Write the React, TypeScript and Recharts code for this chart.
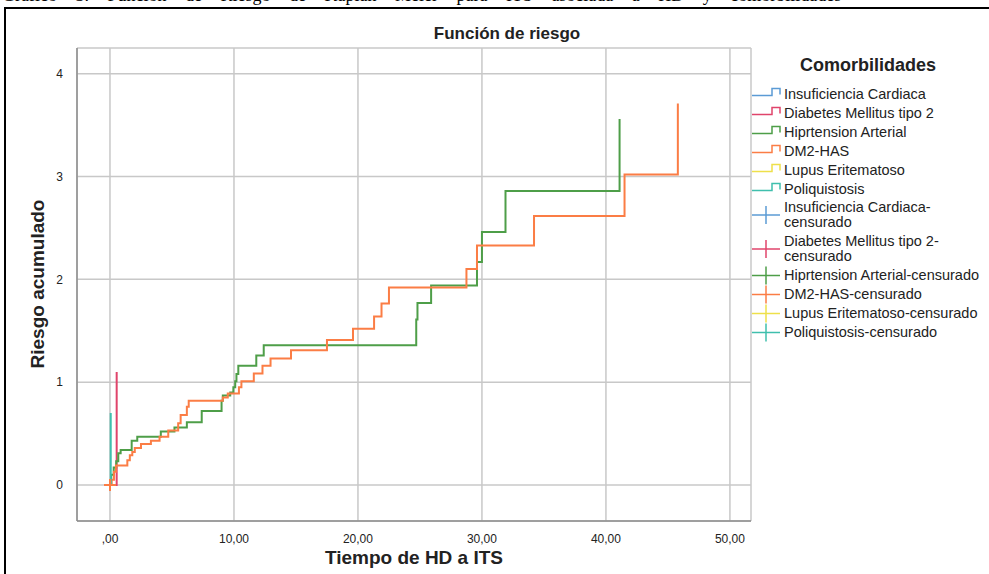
import React from "react";
import { ComposedChart, Line, Scatter, XAxis, YAxis, CartesianGrid } from "recharts";

// ── Data ──────────────────────────────────────────────────────────────────────

const categories = [
    "Insuficiencia Cardiaca",
    "Diabetes Mellitus tipo 2",
    "Hiprtension Arterial",
    "DM2-HAS",
    "Lupus Eritematoso",
    "Poliquistosis",
];
const colors = ["#5b9bd5", "#e0446b", "#4e9e48", "#fb7d45", "#eee04a", "#3fbfad"];

const xTicks = [0, 10, 20, 30, 40, 50];
const yTicks = [0, 1, 2, 3, 4];

// cumulative hazard after each event time (t = tiempo de HD a ITS)
const diabetesSteps = [
    { t: 0, v: 0 },
    { t: 0.54, v: 1.1 },
];

const poliquistosisSteps = [
    { t: 0, v: 0 },
    { t: 0.06, v: 0.7 },
];

const hipertensionSteps = [
    { t: 0, v: 0 }, { t: 0.1, v: 0.1 }, { t: 0.3, v: 0.17 }, { t: 0.5, v: 0.23 },
    { t: 0.67, v: 0.31 }, { t: 0.86, v: 0.34 }, { t: 1.75, v: 0.43 }, { t: 2.2, v: 0.47 },
    { t: 4.1, v: 0.52 }, { t: 5.2, v: 0.56 }, { t: 6.2, v: 0.61 }, { t: 7.4, v: 0.72 },
    { t: 9.0, v: 0.82 }, { t: 9.1, v: 0.87 }, { t: 9.7, v: 0.9 }, { t: 9.95, v: 0.95 },
    { t: 10.1, v: 1.01 }, { t: 10.2, v: 1.08 }, { t: 10.35, v: 1.16 }, { t: 11.8, v: 1.26 },
    { t: 12.4, v: 1.36 }, { t: 24.7, v: 1.61 }, { t: 24.8, v: 1.77 }, { t: 25.9, v: 1.94 },
    { t: 29.6, v: 2.17 }, { t: 30.0, v: 2.46 }, { t: 31.9, v: 2.86 }, { t: 41.1, v: 3.56 },
];

const dm2HasSteps = [
    { t: 0, v: 0 }, { t: 0.13, v: 0.05 }, { t: 0.32, v: 0.13 }, { t: 0.48, v: 0.19 },
    { t: 1.4, v: 0.24 }, { t: 1.6, v: 0.29 }, { t: 1.8, v: 0.32 }, { t: 2.0, v: 0.36 },
    { t: 2.5, v: 0.4 }, { t: 3.3, v: 0.43 }, { t: 4.0, v: 0.47 }, { t: 4.7, v: 0.53 },
    { t: 5.5, v: 0.6 }, { t: 5.7, v: 0.68 }, { t: 6.2, v: 0.76 }, { t: 6.35, v: 0.82 },
    { t: 9.1, v: 0.85 }, { t: 9.5, v: 0.89 }, { t: 10.4, v: 0.95 }, { t: 10.6, v: 1.01 },
    { t: 11.6, v: 1.085 }, { t: 12.3, v: 1.16 }, { t: 12.95, v: 1.23 }, { t: 14.6, v: 1.31 },
    { t: 17.5, v: 1.41 }, { t: 19.6, v: 1.52 }, { t: 21.3, v: 1.64 }, { t: 21.9, v: 1.765 },
    { t: 22.5, v: 1.92 }, { t: 28.75, v: 2.1 }, { t: 29.6, v: 2.33 }, { t: 34.2, v: 2.615 },
    { t: 41.5, v: 3.02 }, { t: 45.8, v: 3.71 },
];

const dm2HasCensored = [{ t: 0, v: 0 }];

// ── Helpers ───────────────────────────────────────────────────────────────────

const SANS = "'Liberation Sans', Arial, sans-serif";

function fmtX(v: number): string {
    return v === 0 ? ",00" : v.toFixed(2).replace(".", ",");
}

function PlusMark(props: any) {
    const { cx, cy } = props;
    const c = colors[3];
    return (
        <g>
            <line x1={cx - 6} y1={cy} x2={cx + 6} y2={cy} stroke={c} strokeWidth={2} />
            <line x1={cx} y1={cy - 6} x2={cx} y2={cy + 6} stroke={c} strokeWidth={2} />
        </g>
    );
}

function StepIcon({ color }: { color: string }) {
    return (
        <svg width={30} height={19} style={{ flex: "none" }}>
            <path d="M0,11.5 H20 V4.5 H28 V10.5" fill="none" stroke={color} strokeWidth={1.5} />
        </svg>
    );
}

function PlusIcon({ color, h }: { color: string; h: number }) {
    const m = h / 2;
    return (
        <svg width={30} height={h} style={{ flex: "none" }}>
            <line x1={0} y1={m} x2={28} y2={m} stroke={color} strokeWidth={1.5} />
            <line x1={14} y1={m - 9} x2={14} y2={m + 9} stroke={color} strokeWidth={1.5} />
        </svg>
    );
}

// ── Legend ────────────────────────────────────────────────────────────────────

function LegendBox() {
    const censLabels: string[][] = [
        ["Insuficiencia Cardiaca-", "censurado"],
        ["Diabetes Mellitus tipo 2-", "censurado"],
        ["Hiprtension Arterial-censurado"],
        ["DM2-HAS-censurado"],
        ["Lupus Eritematoso-censurado"],
        ["Poliquistosis-censurado"],
    ];
    return (
        <div style={{ position: "absolute", left: 752, top: 54, width: 237, fontFamily: SANS, color: "#222" }}>
            <div style={{ fontSize: 18, fontWeight: "bold", marginLeft: 48, lineHeight: "22px" }}>
                Comorbilidades
            </div>
            <div style={{ marginTop: 8 }}>
                {categories.map((c, i) => (
                    <div key={c} style={{ display: "flex", alignItems: "center", height: 19 }}>
                        <StepIcon color={colors[i]} />
                        <span style={{ fontSize: 14.5, marginLeft: 2, whiteSpace: "nowrap" }}>{c}</span>
                    </div>
                ))}
                {censLabels.map((lines, i) => {
                    const h = 19 + (lines.length - 1) * 15;
                    return (
                        <div key={i} style={{ display: "flex", alignItems: "center", height: h }}>
                            <PlusIcon color={colors[i]} h={h} />
                            <span style={{ fontSize: 14.5, marginLeft: 2, lineHeight: "15px", whiteSpace: "nowrap" }}>
                                {lines.map((l, j) => (
                                    <div key={j}>{l}</div>
                                ))}
                            </span>
                        </div>
                    );
                })}
            </div>
        </div>
    );
}

// ── Main ──────────────────────────────────────────────────────────────────────

export default function App() {
    return (
        <div
            style={{
                position: "fixed",
                left: 0,
                top: 0,
                width: 989,
                height: 574,
                overflow: "hidden",
                background: "#fff",
            }}
        >
            {/* cut-off caption above the frame */}
            <div style={{ position: "absolute", left: 0, top: 0, width: 989, height: 6, overflow: "hidden" }}>
                <div
                    style={{
                        position: "absolute",
                        left: 2,
                        top: -15,
                        fontFamily: "'Liberation Serif', 'Times New Roman', serif",
                        fontSize: 18,
                        wordSpacing: 14,
                        whiteSpace: "nowrap",
                    }}
                >
                    Gráfico 3. Función de Riesgo de Kaplan Meier para ITS asociada a HD y comorbilidades
                </div>
            </div>

            {/* frame */}
            <div
                style={{
                    position: "absolute",
                    left: 4,
                    top: 7,
                    width: 1000,
                    height: 600,
                    border: "2px solid #000",
                }}
            />

            <div style={{ position: "absolute", left: 0, top: 0 }}>
                <ComposedChart
                    width={989}
                    height={574}
                    margin={{ top: 48, right: 238, bottom: 23, left: 37 }}
                >
                    <CartesianGrid stroke="#c8c8c8" strokeWidth={1.5} />
                    <XAxis
                        dataKey="t"
                        type="number"
                        domain={[-2.66, 51.7]}
                        ticks={xTicks}
                        tickFormatter={fmtX}
                        height={30}
                        tickLine={false}
                        tickSize={0}
                        tickMargin={13}
                        axisLine={{ stroke: "#8c8c8c", strokeWidth: 1.5 }}
                        tick={{ fill: "#222", fontSize: 12, fontFamily: SANS }}
                        allowDataOverflow
                    />
                    <YAxis
                        type="number"
                        domain={[-0.35, 4.25]}
                        ticks={yTicks}
                        width={40}
                        tickLine={false}
                        tickSize={0}
                        tickMargin={14}
                        axisLine={{ stroke: "#8c8c8c", strokeWidth: 1.5 }}
                        tick={{ fill: "#222", fontSize: 12, fontFamily: SANS }}
                        allowDataOverflow
                    />
                    <Line data={diabetesSteps} dataKey="v" type="stepAfter" stroke={colors[1]} strokeWidth={2} dot={false} isAnimationActive={false} />
                    <Line data={hipertensionSteps} dataKey="v" type="stepAfter" stroke={colors[2]} strokeWidth={2} dot={false} isAnimationActive={false} />
                    <Line data={dm2HasSteps} dataKey="v" type="stepAfter" stroke={colors[3]} strokeWidth={2} dot={false} isAnimationActive={false} />
                    <Line data={poliquistosisSteps} dataKey="v" type="stepAfter" stroke={colors[5]} strokeWidth={2} dot={false} isAnimationActive={false} />
                    <Scatter data={dm2HasCensored} dataKey="v" shape={PlusMark} isAnimationActive={false} />
                </ComposedChart>
            </div>

            {/* titles */}
            <div
                style={{
                    position: "absolute",
                    left: 357,
                    top: 24,
                    width: 300,
                    textAlign: "center",
                    fontFamily: SANS,
                    fontSize: 17,
                    lineHeight: "20px",
                    fontWeight: "bold",
                    color: "#222",
                }}
            >
                Función de riesgo
            </div>
            <div
                style={{
                    position: "absolute",
                    left: 38,
                    top: 284,
                    transform: "translate(-50%, -50%) rotate(-90deg)",
                    whiteSpace: "nowrap",
                    fontFamily: SANS,
                    fontSize: 19,
                    lineHeight: "20px",
                    fontWeight: "bold",
                    color: "#222",
                }}
            >
                Riesgo acumulado
            </div>
            <div
                style={{
                    position: "absolute",
                    left: 264,
                    top: 548,
                    width: 300,
                    textAlign: "center",
                    fontFamily: SANS,
                    fontSize: 19,
                    lineHeight: "19px",
                    fontWeight: "bold",
                    color: "#222",
                }}
            >
                Tiempo de HD a ITS
            </div>

            <LegendBox />
        </div>
    );
}
